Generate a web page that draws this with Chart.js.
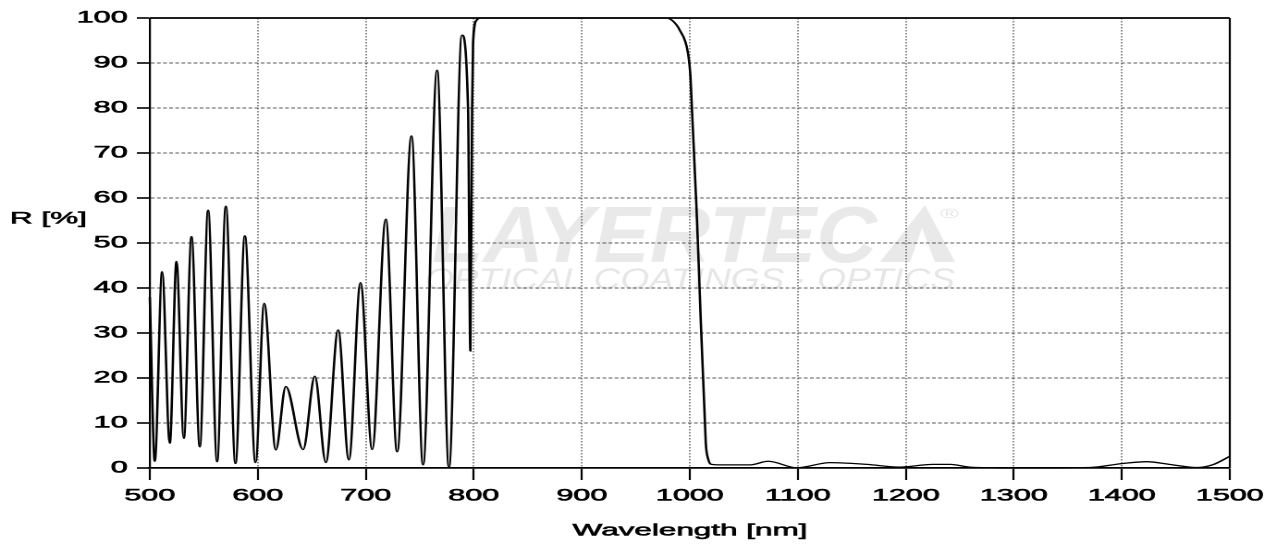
<!DOCTYPE html>
<html>
<head>
<meta charset="utf-8">
<script src="https://cdn.jsdelivr.net/npm/chart.js@4.4.1/dist/chart.umd.min.js"></script>
<style>
  html, body { margin: 0; padding: 0; background: #fff; overflow: hidden; }
  /* o gráfico original é esticado na horizontal */
  #wrap { width: 690px; height: 544px; transform: scaleX(1.8493); transform-origin: 0 0; }
</style>
</head>
<body>
<div id="wrap"><canvas id="graficoR"></canvas></div>
<script>
const wavelength = [
  500, 504.6, 511.4, 518.5, 524.7, 531.5, 538.6, 546.3, 554, 562.3,
  570.4, 579.3, 588, 597.9, 605.9, 616.7, 625.9, 642, 652.8, 663,
  674.4, 684.3, 695.1, 705.9, 718.5, 729, 742.3, 753, 766, 777,
  789, 794.7, 796.8, 798.4, 799.3, 802.5, 807, 978, 984, 990.7,
  998.4, 1000.6, 1007.5, 1014.8, 1017, 1020, 1028, 1056, 1072.5, 1099,
  1130, 1164, 1194, 1225, 1241, 1259, 1300, 1370, 1401, 1423,
  1444, 1469, 1484, 1500
];
const reflectance = [
  38, 1.5, 43.6, 5.5, 45.9, 6.6, 51.4, 4.7, 57.3, 1.4,
  58.2, 1.0, 51.6, 1.2, 36.6, 4.0, 18.1, 4.1, 20.4, 1.2,
  30.7, 1.8, 41.2, 4.1, 55.3, 3.6, 73.8, 0.7, 88.4, 0.1,
  96.2, 79.6, 26, 79.6, 94.4, 99.5, 100, 100, 99.4, 97.3,
  92.1, 87, 50, 5.5, 2, 0.8, 0.7, 0.7, 1.5, 0.05,
  1.2, 0.8, 0.2, 0.8, 0.8, 0.2, 0, 0.1, 1.0, 1.4,
  0.8, 0.1, 0.7, 2.6
];
const xTicks = [500, 600, 700, 800, 900, 1000, 1100, 1200, 1300, 1400, 1500];
const yTicks = [0, 10, 20, 30, 40, 50, 60, 70, 80, 90, 100];

const SX = 1.8493; // fator de esticamento horizontal
const FONTE = "'Liberation Sans', Arial, sans-serif";

// escreve texto um pouco mais grosso (contorno fino)
function textoGrosso(ctx, txt, x, y) {
  ctx.fillText(txt, x, y);
  ctx.strokeText(txt, x, y);
}

// marca d'água, moldura e títulos
const extras = {
  id: "extras",
  beforeDraw(chart) {
    const ctx = chart.ctx;
    ctx.save();
    ctx.fillStyle = "#e9e9e9";
    ctx.textBaseline = "alphabetic";
    ctx.textAlign = "left";
    ctx.font = "italic bold 80px " + FONTE;
    ctx.fillText("LAYERTEC", 432 / SX, 262, 445 / SX);
    // triângulo do logo
    ctx.beginPath();
    ctx.moveTo(925 / SX, 205);
    ctx.lineTo(955 / SX, 262);
    ctx.lineTo(880 / SX, 262);
    ctx.closePath();
    ctx.fill();
    ctx.fillStyle = "#fff";
    ctx.beginPath();
    ctx.moveTo(922 / SX, 228);
    ctx.lineTo(935 / SX, 262);
    ctx.lineTo(910 / SX, 262);
    ctx.closePath();
    ctx.fill();
    ctx.fillStyle = "#e6e6e6";
    ctx.font = "14px " + FONTE;
    ctx.fillText("®", 940 / SX, 218);
    ctx.font = "italic 30px " + FONTE;
    ctx.fillText("OPTICAL COATINGS · OPTICS", 425 / SX, 289, 530 / SX);
    ctx.restore();
  },
  afterDraw(chart) {
    const { ctx, chartArea } = chart;
    ctx.save();
    ctx.strokeStyle = "#000";
    ctx.lineWidth = 1.8;
    ctx.beginPath();
    ctx.moveTo(chartArea.left, chartArea.top);
    ctx.lineTo(chartArea.right, chartArea.top);
    ctx.stroke();
    ctx.lineWidth = 1.1;
    ctx.beginPath();
    ctx.moveTo(chartArea.right, chartArea.top);
    ctx.lineTo(chartArea.right, chartArea.bottom);
    ctx.stroke();
    // títulos dos eixos
    ctx.fillStyle = "#000";
    ctx.lineWidth = 0.6;
    ctx.font = "17px " + FONTE;
    ctx.textBaseline = "middle";
    ctx.textAlign = "left";
    textoGrosso(ctx, "R [%]", 10 / SX, 219);
    ctx.textAlign = "center";
    textoGrosso(ctx, "Wavelength [nm]", 690 / SX, 531);
    ctx.restore();
  },
};

const fonteTicks = { family: FONTE, size: 16.5 };

const ctx = document.getElementById("graficoR").getContext("2d");
new Chart(ctx, {
  type: "line",
  data: {
    datasets: [
      {
        label: "R",
        data: wavelength.map((w, i) => ({ x: w, y: reflectance[i] })),
        borderColor: "#000",
        borderWidth: 1.3,
        pointRadius: 0,
        fill: false,
        cubicInterpolationMode: "monotone",
        clip: false,
      },
    ],
  },
  options: {
    responsive: true,
    maintainAspectRatio: false,
    animation: false,
    devicePixelRatio: 2,
    layout: { padding: { top: 18, right: 25, left: 0, bottom: 0 } },
    plugins: {
      legend: { display: false },
      tooltip: { enabled: false },
    },
    scales: {
      x: {
        type: "linear",
        min: 500,
        max: 1500,
        afterBuildTicks: (s) => { s.ticks = xTicks.map((v) => ({ value: v })); },
        afterFit: (s) => { s.height = 76; },
        ticks: {
          color: "#000",
          font: fonteTicks,
          textStrokeColor: "#000",
          textStrokeWidth: 0.6,
          padding: 6,
          maxRotation: 0,
          autoSkip: false,
          callback: (v) => String(v),
        },
        grid: {
          color: "#444",
          lineWidth: 0.6,
          tickLength: 12,
          tickWidth: 1.1,
          tickColor: "#000",
        },
        border: { display: true, color: "#000", width: 1.8, dash: [1.5, 1.5] },
      },
      y: {
        type: "linear",
        min: 0,
        max: 100,
        afterBuildTicks: (s) => { s.ticks = yTicks.map((v) => ({ value: v })); },
        afterFit: (s) => { s.width = 81; },
        ticks: {
          color: "#000",
          font: fonteTicks,
          textStrokeColor: "#000",
          textStrokeWidth: 0.6,
          padding: 5,
          callback: (v) => String(v),
        },
        grid: {
          color: "#555",
          lineWidth: 1,
          tickLength: 7,
          tickWidth: 1.6,
          tickColor: "#000",
        },
        border: { display: true, color: "#000", width: 1.1, dash: [2, 1.3] },
      },
    },
  },
  plugins: [extras],
});
</script>
</body>
</html>
